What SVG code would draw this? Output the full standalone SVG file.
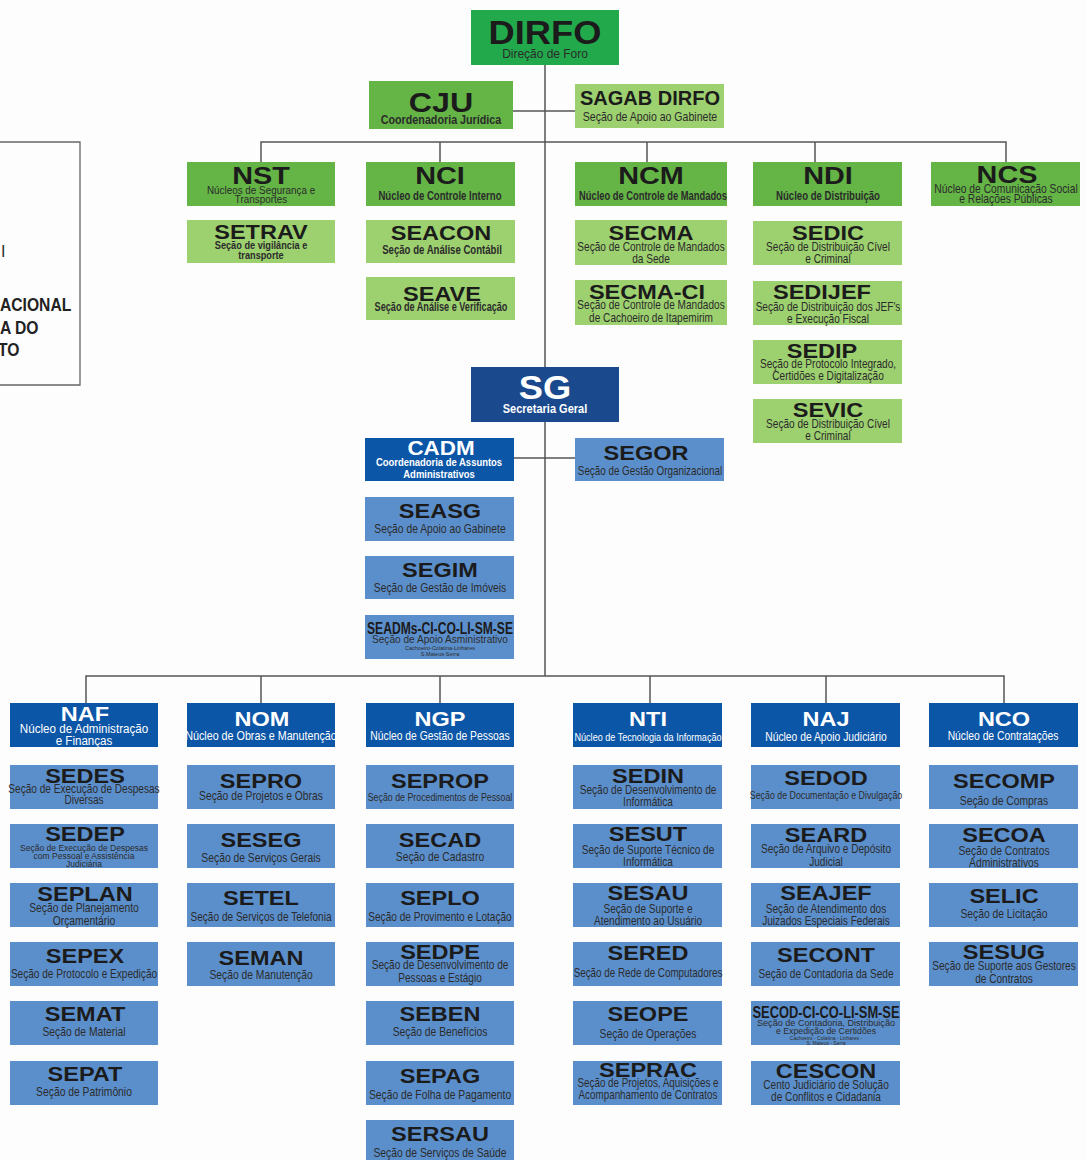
<svg xmlns="http://www.w3.org/2000/svg" width="1087" height="1160" viewBox="0 0 1087 1160">
<style>
.bg{fill:#fdfdfd}
.gd{fill:#22a94c}.gm{fill:#64b446}.gl{fill:#9dd06f}
.bd{fill:#1a4a8d}.bm{fill:#0c56a7}.bl{fill:#5b8fcc}
.ln{stroke:#555;stroke-width:1.5;fill:none}
.t{font-family:'Liberation Sans',Arial,sans-serif;font-weight:bold;font-size:21px;fill:#1b1b1b;text-anchor:middle}
.tw{fill:#fff}
.s{font-family:'Liberation Sans',Arial,sans-serif;font-size:12px;fill:#2b2b2b;text-anchor:middle}
.sb{font-weight:bold}
.sw{fill:#fff}
.lt{font-family:'Liberation Sans',Arial,sans-serif;font-weight:bold;font-size:18px;fill:#222}
</style>
<rect class="bg" x="0" y="0" width="1087" height="1160"/>

<g id="legend-box">
<path class="ln" d="M0 142H80V385H0" style="stroke:#666;stroke-width:1.3"/>
<text class="s" x="1" y="257" style="text-anchor:start;font-size:16px">I</text>
<text class="lt" transform="translate(0 311) scale(.87 1)">ACIONAL</text>
<text class="lt" transform="translate(0 334) scale(.87 1)">A DO</text>
<text class="lt" transform="translate(-2 356) scale(.87 1)">TO</text>
</g>

<g id="connectors">
<path class="ln" d="M545 65V676"/>
<path class="ln" d="M513 111H575"/>
<path class="ln" d="M261 162V142H1006V162M440 142V162M647 142V162M815 142V162"/>
<path class="ln" d="M514 458H575"/>
<path class="ln" d="M86 703V676H1004V703M261 676V703M440 676V703M650 676V703M826 676V703"/>
</g>

<g id="DIRFO"><rect class="gd" x="471" y="10" width="148" height="55"/>
<text class="t" transform="translate(545 44) scale(1.1 1)" style="font-size:33px">DIRFO</text>
<text class="s" transform="translate(545 58) scale(.92 1)" style="font-size:13px">Direção de Foro</text></g>

<g id="CJU"><rect class="gm" x="369" y="81" width="144" height="48"/>
<text class="t" transform="translate(441 112) scale(1.15 1)" style="font-size:28px">CJU</text>
<text class="s sb" transform="translate(441 124) scale(.86 1)" style="font-size:12.5px">Coordenadoria Jurídica</text></g>

<g id="SAGAB"><rect class="gl" x="575" y="84" width="149" height="44"/>
<text class="t" transform="translate(650 105) scale(1 1)" style="font-size:20px">SAGAB DIRFO</text>
<text class="s" transform="translate(650 121) scale(.88 1)">Seção de Apoio ao Gabinete</text></g>

<g id="NST"><rect class="gm" x="187" y="162" width="148" height="44"/>
<text class="t" transform="translate(261 184) scale(1.2 1)" style="font-size:24px">NST</text>
<text class="s" transform="translate(261 194) scale(.86 1)" style="font-size:11.5px">Núcleos de Segurança e</text>
<text class="s" transform="translate(261 203) scale(.86 1)" style="font-size:11.5px">Transportes</text></g>

<g id="NCI"><rect class="gm" x="366" y="162" width="149" height="44"/>
<text class="t" transform="translate(440 184) scale(1.2 1)" style="font-size:24px">NCI</text>
<text class="s sb" transform="translate(440 200) scale(.8 1)">Núcleo de Controle Interno</text></g>

<g id="NCM"><rect class="gm" x="575" y="162" width="152" height="44"/>
<text class="t" transform="translate(651 184) scale(1.2 1)" style="font-size:24px">NCM</text>
<text class="s sb" transform="translate(653 200) scale(.78 1)">Núcleo de Controle de Mandados</text></g>

<g id="NDI"><rect class="gm" x="753" y="162" width="149" height="44"/>
<text class="t" transform="translate(828 184) scale(1.2 1)" style="font-size:24px">NDI</text>
<text class="s sb" transform="translate(828 200) scale(.8 1)">Núcleo de Distribuição</text></g>

<g id="NCS"><rect class="gm" x="931" y="162" width="149" height="44"/>
<text class="t" transform="translate(1007 183) scale(1.2 1)" style="font-size:24px">NCS</text>
<text class="s" transform="translate(1006 193) scale(.86 1)">Núcleo de Comunicação Social</text>
<text class="s" transform="translate(1006 203) scale(.86 1)">e Relações Públicas</text></g>

<g id="SETRAV"><rect class="gl" x="187" y="220" width="148" height="43"/>
<text class="t" transform="translate(261 239) scale(1.12 1)">SETRAV</text>
<text class="s sb" transform="translate(261 249) scale(.8 1)" style="font-size:11.5px">Seção de vigilância e</text>
<text class="s sb" transform="translate(261 259) scale(.8 1)" style="font-size:11.5px">transporte</text></g>

<g id="SEACON"><rect class="gl" x="366" y="220" width="149" height="43"/>
<text class="t" transform="translate(441 240) scale(1.12 1)">SEACON</text>
<text class="s sb" transform="translate(442 254) scale(.8 1)">Seção de Análise Contábil</text></g>

<g id="SEAVE"><rect class="gl" x="366" y="277" width="149" height="43"/>
<text class="t" transform="translate(442 301) scale(1.12 1)">SEAVE</text>
<text class="s sb" transform="translate(441 311) scale(.76 1)">Seção de Análise e Verificação</text></g>

<g id="SECMA"><rect class="gl" x="575" y="220" width="152" height="45"/>
<text class="t" transform="translate(651 240) scale(1.12 1)">SECMA</text>
<text class="s" transform="translate(651 251) scale(.84 1)">Seção de Controle de Mandados</text>
<text class="s" transform="translate(651 263) scale(.84 1)">da Sede</text></g>

<g id="SECMA-CI"><rect class="gl" x="575" y="280" width="152" height="45"/>
<text class="t" transform="translate(647 299) scale(1.12 1)">SECMA-CI</text>
<text class="s" transform="translate(651 309) scale(.84 1)">Seção de Controle de Mandados</text>
<text class="s" transform="translate(651 322) scale(.84 1)">de Cachoeiro de Itapemirim</text></g>

<g id="SEDIC"><rect class="gl" x="753" y="221" width="149" height="44"/>
<text class="t" transform="translate(828 240) scale(1.12 1)">SEDIC</text>
<text class="s" transform="translate(828 251) scale(.84 1)">Seção de Distribuição Cível</text>
<text class="s" transform="translate(828 263) scale(.84 1)">e Criminal</text></g>

<g id="SEDIJEF"><rect class="gl" x="753" y="281" width="149" height="44"/>
<text class="t" transform="translate(822 299) scale(1.12 1)">SEDIJEF</text>
<text class="s" transform="translate(828 311) scale(.84 1)">Seção de Distribuição dos JEF's</text>
<text class="s" transform="translate(828 323) scale(.84 1)">e Execução Fiscal</text></g>

<g id="SEDIP"><rect class="gl" x="753" y="340" width="149" height="44"/>
<text class="t" transform="translate(822 358) scale(1.12 1)">SEDIP</text>
<text class="s" transform="translate(828 368) scale(.84 1)">Seção de Protocolo Integrado,</text>
<text class="s" transform="translate(828 380) scale(.84 1)">Certidões e Digitalização</text></g>

<g id="SEVIC"><rect class="gl" x="753" y="399" width="149" height="44"/>
<text class="t" transform="translate(828 417) scale(1.12 1)">SEVIC</text>
<text class="s" transform="translate(828 428) scale(.84 1)">Seção de Distribuição Cível</text>
<text class="s" transform="translate(828 440) scale(.84 1)">e Criminal</text></g>

<g id="SG"><rect class="bd" x="471" y="367" width="148" height="55"/>
<text class="t tw" transform="translate(545 399) scale(1.1 1)" style="font-size:33px">SG</text>
<text class="s sb sw" transform="translate(545 413) scale(.92 1)">Secretaria Geral</text></g>

<g id="CADM"><rect class="bm" x="365" y="438" width="149" height="43"/>
<text class="t tw" transform="translate(441 455) scale(1.12 1)" style="font-size:20px">CADM</text>
<text class="s sb sw" transform="translate(439 466) scale(.86 1)" style="font-size:11px">Coordenadoria de Assuntos</text>
<text class="s sb sw" transform="translate(439 478) scale(.86 1)" style="font-size:11px">Administrativos</text></g>

<g id="SEGOR"><rect class="bl" x="575" y="438" width="149" height="43"/>
<text class="t" transform="translate(646 460) scale(1.12 1)">SEGOR</text>
<text class="s" transform="translate(650 475) scale(.82 1)">Seção de Gestão Organizacional</text></g>

<g id="SEASG"><rect class="bl" x="365" y="497" width="149" height="44"/>
<text class="t" transform="translate(440 518) scale(1.12 1)">SEASG</text>
<text class="s" transform="translate(440 533) scale(.86 1)">Seção de Apoio ao Gabinete</text></g>

<g id="SEGIM"><rect class="bl" x="365" y="556" width="149" height="43"/>
<text class="t" transform="translate(440 577) scale(1.12 1)">SEGIM</text>
<text class="s" transform="translate(440 592) scale(.86 1)">Seção de Gestão de Imóveis</text></g>

<g id="SEADMs"><rect class="bl" x="365" y="615" width="149" height="44"/>
<text class="t" x="440" y="634" textLength="146" lengthAdjust="spacingAndGlyphs" style="font-size:17px">SEADMs-CI-CO-LI-SM-SE</text>
<text class="s" x="440" y="643" textLength="136" lengthAdjust="spacingAndGlyphs" style="font-size:11px">Seção de Apoio Asministrativo</text>
<text class="s" x="440" y="650" style="font-size:5.5px">Cachoeiro-Colatina-Linhares</text>
<text class="s" x="440" y="656" style="font-size:5.5px">S.Mateus-Serra</text></g>

<!-- bottom nuclei -->
<g id="NAF"><rect class="bm" x="10" y="703" width="148" height="44"/>
<text class="t tw" transform="translate(85 721) scale(1.12 1)">NAF</text>
<text class="s sw" transform="translate(84 733) scale(.86 1)" style="font-size:13.5px">Núcleo de Administração</text>
<text class="s sw" transform="translate(84 745) scale(.86 1)" style="font-size:13.5px">e Finanças</text></g>

<g id="NOM"><rect class="bm" x="187" y="703" width="148" height="44"/>
<text class="t tw" transform="translate(262 726) scale(1.12 1)">NOM</text>
<text class="s sw" transform="translate(261 740) scale(.86 1)" style="font-size:12.5px">Núcleo de Obras e Manutenção</text></g>

<g id="NGP"><rect class="bm" x="366" y="703" width="148" height="44"/>
<text class="t tw" transform="translate(440 726) scale(1.12 1)">NGP</text>
<text class="s sw" transform="translate(440 740) scale(.86 1)">Núcleo de Gestão de Pessoas</text></g>

<g id="NTI"><rect class="bm" x="573" y="703" width="149" height="44"/>
<text class="t tw" transform="translate(648 726) scale(1.12 1)">NTI</text>
<text class="s sw" transform="translate(648 741) scale(.84 1)" style="font-size:10.8px">Núcleo de Tecnologia da Informação</text></g>

<g id="NAJ"><rect class="bm" x="751" y="703" width="149" height="44"/>
<text class="t tw" transform="translate(826 726) scale(1.12 1)">NAJ</text>
<text class="s sw" transform="translate(826 741) scale(.86 1)">Núcleo de Apoio Judiciário</text></g>

<g id="NCO"><rect class="bm" x="929" y="703" width="149" height="44"/>
<text class="t tw" transform="translate(1004 726) scale(1.12 1)">NCO</text>
<text class="s sw" transform="translate(1003 740) scale(.86 1)">Núcleo de Contratações</text></g>

<!-- NAF column -->
<g id="SEDES"><rect class="bl" x="10" y="765" width="148" height="44"/>
<text class="t" transform="translate(85 783) scale(1.12 1)">SEDES</text>
<text class="s" transform="translate(84 793) scale(.84 1)">Seção de Execução de Despesas</text>
<text class="s" transform="translate(84 804) scale(.84 1)">Diversas</text></g>

<g id="SEDEP"><rect class="bl" x="10" y="824" width="148" height="44"/>
<text class="t" transform="translate(85 841) scale(1.12 1)">SEDEP</text>
<text class="s" transform="translate(84 851) scale(.9 1)" style="font-size:9.5px">Seção de Execução de Despesas</text>
<text class="s" transform="translate(84 859) scale(.9 1)" style="font-size:9.5px">com Pessoal e Assistência</text>
<text class="s" transform="translate(84 867) scale(.9 1)" style="font-size:9.5px">Judiciária</text></g>

<g id="SEPLAN"><rect class="bl" x="10" y="883" width="148" height="44"/>
<text class="t" transform="translate(85 901) scale(1.12 1)">SEPLAN</text>
<text class="s" transform="translate(84 912) scale(.86 1)">Seção de Planejamento</text>
<text class="s" transform="translate(84 925) scale(.86 1)">Orçamentário</text></g>

<g id="SEPEX"><rect class="bl" x="10" y="942" width="148" height="44"/>
<text class="t" transform="translate(85 963) scale(1.12 1)">SEPEX</text>
<text class="s" transform="translate(84 978) scale(.84 1)">Seção de Protocolo e Expedição</text></g>

<g id="SEMAT"><rect class="bl" x="10" y="1001" width="148" height="44"/>
<text class="t" transform="translate(85 1021) scale(1.12 1)">SEMAT</text>
<text class="s" transform="translate(84 1036) scale(.86 1)">Seção de Material</text></g>

<g id="SEPAT"><rect class="bl" x="10" y="1061" width="148" height="44"/>
<text class="t" transform="translate(85 1081) scale(1.12 1)">SEPAT</text>
<text class="s" transform="translate(84 1096) scale(.86 1)">Seção de Patrimônio</text></g>

<!-- NOM column -->
<g id="SEPRO"><rect class="bl" x="187" y="765" width="148" height="44"/>
<text class="t" transform="translate(261 788) scale(1.12 1)">SEPRO</text>
<text class="s" transform="translate(261 800) scale(.86 1)">Seção de Projetos e Obras</text></g>

<g id="SESEG"><rect class="bl" x="187" y="824" width="148" height="44"/>
<text class="t" transform="translate(261 847) scale(1.12 1)">SESEG</text>
<text class="s" transform="translate(261 862) scale(.86 1)">Seção de Serviços Gerais</text></g>

<g id="SETEL"><rect class="bl" x="187" y="883" width="148" height="44"/>
<text class="t" transform="translate(261 905) scale(1.12 1)">SETEL</text>
<text class="s" transform="translate(261 921) scale(.84 1)">Seção de Serviços de Telefonia</text></g>

<g id="SEMAN"><rect class="bl" x="187" y="942" width="148" height="44"/>
<text class="t" transform="translate(261 965) scale(1.12 1)">SEMAN</text>
<text class="s" transform="translate(261 979) scale(.86 1)">Seção de Manutenção</text></g>

<!-- NGP column -->
<g id="SEPROP"><rect class="bl" x="366" y="765" width="148" height="44"/>
<text class="t" transform="translate(440 788) scale(1.12 1)">SEPROP</text>
<text class="s" transform="translate(440 801) scale(.84 1)" style="font-size:10.5px">Seção de Procedimentos de Pessoal</text></g>

<g id="SECAD"><rect class="bl" x="366" y="824" width="148" height="44"/>
<text class="t" transform="translate(440 847) scale(1.12 1)">SECAD</text>
<text class="s" transform="translate(440 861) scale(.86 1)">Seção de Cadastro</text></g>

<g id="SEPLO"><rect class="bl" x="366" y="883" width="148" height="44"/>
<text class="t" transform="translate(440 905) scale(1.12 1)">SEPLO</text>
<text class="s" transform="translate(440 921) scale(.84 1)">Seção de Provimento e Lotação</text></g>

<g id="SEDPE"><rect class="bl" x="366" y="942" width="148" height="44"/>
<text class="t" transform="translate(440 959) scale(1.12 1)">SEDPE</text>
<text class="s" transform="translate(440 969) scale(.84 1)">Seção de Desenvolvimento de</text>
<text class="s" transform="translate(440 982) scale(.84 1)">Pessoas e Estágio</text></g>

<g id="SEBEN"><rect class="bl" x="366" y="1001" width="148" height="44"/>
<text class="t" transform="translate(440 1021) scale(1.12 1)">SEBEN</text>
<text class="s" transform="translate(440 1036) scale(.86 1)">Seção de Benefícios</text></g>

<g id="SEPAG"><rect class="bl" x="366" y="1061" width="148" height="44"/>
<text class="t" transform="translate(440 1083) scale(1.12 1)">SEPAG</text>
<text class="s" transform="translate(440 1099) scale(.86 1)">Seção de Folha de Pagamento</text></g>

<g id="SERSAU"><rect class="bl" x="366" y="1120" width="148" height="44"/>
<text class="t" transform="translate(440 1141) scale(1.12 1)">SERSAU</text>
<text class="s" transform="translate(440 1157) scale(.86 1)">Seção de Serviços de Saúde</text></g>

<!-- NTI column -->
<g id="SEDIN"><rect class="bl" x="573" y="765" width="149" height="44"/>
<text class="t" transform="translate(648 783) scale(1.12 1)">SEDIN</text>
<text class="s" transform="translate(648 794) scale(.84 1)">Seção de Desenvolvimento de</text>
<text class="s" transform="translate(648 806) scale(.84 1)">Informática</text></g>

<g id="SESUT"><rect class="bl" x="573" y="824" width="149" height="44"/>
<text class="t" transform="translate(648 841) scale(1.12 1)">SESUT</text>
<text class="s" transform="translate(648 854) scale(.84 1)">Seção de Suporte Técnico de</text>
<text class="s" transform="translate(648 866) scale(.84 1)">Informática</text></g>

<g id="SESAU"><rect class="bl" x="573" y="883" width="149" height="44"/>
<text class="t" transform="translate(648 900) scale(1.12 1)">SESAU</text>
<text class="s" transform="translate(648 913) scale(.84 1)">Seção de Suporte e</text>
<text class="s" transform="translate(648 925) scale(.84 1)">Atendimento ao Usuário</text></g>

<g id="SERED"><rect class="bl" x="573" y="942" width="149" height="44"/>
<text class="t" transform="translate(648 960) scale(1.12 1)">SERED</text>
<text class="s" transform="translate(648 977) scale(.82 1)">Seção de Rede de Computadores</text></g>

<g id="SEOPE"><rect class="bl" x="573" y="1001" width="149" height="44"/>
<text class="t" transform="translate(648 1021) scale(1.12 1)">SEOPE</text>
<text class="s" transform="translate(648 1038) scale(.86 1)">Seção de Operações</text></g>

<g id="SEPRAC"><rect class="bl" x="573" y="1061" width="149" height="44"/>
<text class="t" transform="translate(648 1077) scale(1.12 1)">SEPRAC</text>
<text class="s" transform="translate(648 1087) scale(.82 1)">Seção de Projetos, Aquisições e</text>
<text class="s" transform="translate(648 1099) scale(.82 1)">Acompanhamento de Contratos</text></g>

<!-- NAJ column -->
<g id="SEDOD"><rect class="bl" x="751" y="765" width="149" height="44"/>
<text class="t" transform="translate(826 785) scale(1.12 1)">SEDOD</text>
<text class="s" transform="translate(826 799) scale(.84 1)" style="font-size:10.5px">Seção de Documentação e Divulgação</text></g>

<g id="SEARD"><rect class="bl" x="751" y="824" width="149" height="44"/>
<text class="t" transform="translate(826 842) scale(1.12 1)">SEARD</text>
<text class="s" transform="translate(826 853) scale(.84 1)">Seção de Arquivo e Depósito</text>
<text class="s" transform="translate(826 866) scale(.84 1)">Judicial</text></g>

<g id="SEAJEF"><rect class="bl" x="751" y="883" width="149" height="44"/>
<text class="t" transform="translate(826 900) scale(1.12 1)">SEAJEF</text>
<text class="s" transform="translate(826 913) scale(.84 1)">Seção de Atendimento dos</text>
<text class="s" transform="translate(826 925) scale(.84 1)">Juizados Especiais Federais</text></g>

<g id="SECONT"><rect class="bl" x="751" y="942" width="149" height="44"/>
<text class="t" transform="translate(826 962) scale(1.12 1)">SECONT</text>
<text class="s" transform="translate(826 978) scale(.84 1)">Seção de Contadoria da Sede</text></g>

<g id="SECOD"><rect class="bl" x="751" y="1001" width="149" height="44"/>
<text class="t" x="826" y="1018" textLength="147" lengthAdjust="spacingAndGlyphs" style="font-size:17px">SECOD-CI-CO-LI-SM-SE</text>
<text class="s" x="826" y="1026" textLength="138" lengthAdjust="spacingAndGlyphs" style="font-size:8.5px">Seção de Contadoria, Distribuição</text>
<text class="s" x="826" y="1034" textLength="100" lengthAdjust="spacingAndGlyphs" style="font-size:8.5px">e Expedição de Certidões</text>
<text class="s" x="826" y="1040" style="font-size:5px">Cachoeiro - Colatina - Linhares -</text>
<text class="s" x="826" y="1045" style="font-size:5px">S. Mateus - Serra</text></g>

<g id="CESCON"><rect class="bl" x="751" y="1061" width="149" height="44"/>
<text class="t" transform="translate(826 1078) scale(1.12 1)">CESCON</text>
<text class="s" transform="translate(826 1089) scale(.84 1)">Cento Judiciário de Solução</text>
<text class="s" transform="translate(826 1101) scale(.84 1)">de Conflitos e Cidadania</text></g>

<!-- NCO column -->
<g id="SECOMP"><rect class="bl" x="929" y="765" width="149" height="44"/>
<text class="t" transform="translate(1004 788) scale(1.12 1)">SECOMP</text>
<text class="s" transform="translate(1004 805) scale(.86 1)">Seção de Compras</text></g>

<g id="SECOA"><rect class="bl" x="929" y="824" width="149" height="44"/>
<text class="t" transform="translate(1004 842) scale(1.12 1)">SECOA</text>
<text class="s" transform="translate(1004 855) scale(.86 1)">Seção de Contratos</text>
<text class="s" transform="translate(1004 867) scale(.86 1)">Administrativos</text></g>

<g id="SELIC"><rect class="bl" x="929" y="883" width="149" height="44"/>
<text class="t" transform="translate(1004 903) scale(1.12 1)">SELIC</text>
<text class="s" transform="translate(1004 918) scale(.86 1)">Seção de Licitação</text></g>

<g id="SESUG"><rect class="bl" x="929" y="942" width="149" height="44"/>
<text class="t" transform="translate(1004 959) scale(1.12 1)">SESUG</text>
<text class="s" transform="translate(1004 970) scale(.84 1)">Seção de Suporte aos Gestores</text>
<text class="s" transform="translate(1004 983) scale(.84 1)">de Contratos</text></g>
</svg>
